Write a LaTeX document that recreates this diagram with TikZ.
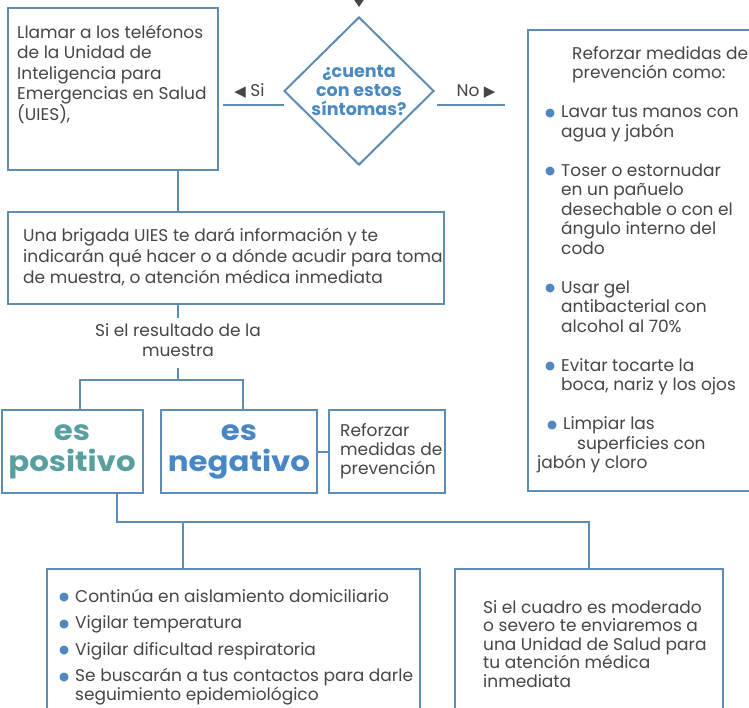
\documentclass[tikz,border=0pt]{standalone}
\usepackage{fontspec}
\setmainfont{Poppins}
\newfontfamily\symfont{DejaVu Sans}
\newfontfamily\bigfont[FakeStretch=1.1]{Poppins}
\usetikzlibrary{shapes.geometric,arrows.meta}

\definecolor{lineblue}{RGB}{93,140,184}
\definecolor{txtgray}{RGB}{70,70,70}
\definecolor{askblue}{RGB}{74,138,192}
\definecolor{posteal}{RGB}{88,160,160}
\definecolor{negblue}{RGB}{72,135,196}
\definecolor{dotblue}{RGB}{80,135,190}

% blue bullet in front of an item
\newcommand{\dotb}{\makebox[16pt][l]{\raisebox{1.5pt}{\color{dotblue}\symfont\fontsize{11.5}{11.5}\selectfont ●}}}

\tikzset{
    box/.style={draw=lineblue, line width=2pt, fill=white, inner sep=0pt},
    link/.style={draw=lineblue, line width=2pt},
    txt/.style={text=txtgray, align=left, inner sep=0pt, anchor=north west, execute at begin node=\strut,
                font=\fontsize{17}{20.5}\selectfont},
    big/.style={align=center, font=\bigfont\bfseries\fontsize{28}{31}\selectfont},
    branchlbl/.style={text=txtgray, anchor=base, yshift=8pt, font=\fontsize{17}{18}\selectfont},
}

\begin{document}
\begin{tikzpicture}[x=1pt, y=-1pt]
    % Canvas with the size of the reference
    \fill[white] (0,0) rectangle (749,708);
    \useasboundingbox (0,0) rectangle (749,708);

    % Question
    \node[shape=diamond, draw=lineblue, line width=2pt, fill=white, minimum width=150, minimum height=148, inner sep=0pt,
          align=center, text=askblue, font=\bfseries\fontsize{17.5}{19}\selectfont] (ask) at (359,91) {¿cuenta\\con estos\\síntomas?};
    \coordinate (top) at (359,-20);
    \draw[-{Triangle[width=9pt,length=7pt]}, txtgray, line width=1.5pt, shorten >=9pt] (top) -- (ask.north);

    % Si and No
    \coordinate (siA) at (223,105);
    \coordinate (siB) at (284,105);
    \draw[link] (siA) -- node[branchlbl, xshift=-4pt] (si) {{\symfont\fontsize{15}{15}\selectfont ◀} Si} (siB);
    \coordinate (noA) at (437,105);
    \coordinate (noB) at (505,105);
    \draw[link] (noA) -- node[branchlbl, xshift=5pt] (no) {No {\symfont\fontsize{15}{15}\selectfont ▶}} (noB);

    % Call the UIES
    \node[box, minimum width=210, minimum height=162] (call) at (113,89) {};
    \node[txt] (calltxt) at (17,24.6) {Llamar a los teléfonos\\de la Unidad de\\Inteligencia para\\Emergencias en Salud\\(UIES),};

    % Prevention list
    \node[box, minimum width=232, minimum height=461] (prev) at (644,260.5) {};
    \node[txt, font=\fontsize{17}{19.5}\selectfont] (prevtxt) at (537,46.3) {%
        \hspace*{35pt}Reforzar medidas de\\
        \hspace*{35pt}prevención como:\\[19.5pt]
        \hspace*{8pt}\dotb Lavar tus manos con\\
        \hspace*{24pt}agua y jabón\\[19.5pt]
        \hspace*{8pt}\dotb Toser o estornudar\\
        \hspace*{24pt}en un pañuelo\\
        \hspace*{24pt}desechable o con el\\
        \hspace*{24pt}ángulo interno del\\
        \hspace*{24pt}codo\\[19.5pt]
        \hspace*{8pt}\dotb Usar gel\\
        \hspace*{24pt}antibacterial con\\
        \hspace*{24pt}alcohol al 70\%\\[19.5pt]
        \hspace*{8pt}\dotb Evitar tocarte la\\
        \hspace*{24pt}boca, nariz y los ojos\\[19.5pt]
        \hspace*{10pt}\dotb Limpiar las\\
        \hspace*{40pt}superficies con\\
        jabón y cloro};

    % Brigade
    \node[box, minimum width=436, minimum height=92] (brig) at (226,258) {};
    \node[txt, font=\fontsize{17}{21}\selectfont] (brigtxt) at (23,228.3) {Una brigada UIES te dará información y te\\indicarán qué hacer o a dónde acudir para toma\\de muestra, o atención médica inmediata};
    \coordinate (spine) at (178,0);
    \draw[link] (call.south -| spine) -- (brig.north -| spine);

    % Result of the test
    \node[txt, anchor=north, align=center, inner sep=5pt] (res) at (178,318) {Si el resultado de la\\muestra};
    \draw[link] (brig.south -| spine) -- (res.north);

    \node[box, minimum width=141, minimum height=83, big, text=posteal] (pos) at (72,451.5) {es\\positivo};
    \node[box, minimum width=156, minimum height=83, big, text=negblue] (neg) at (239,451.5) {es\\negativo};
    \node[box, minimum width=116, minimum height=83] (ref) at (387,451.5) {};
    \node[txt, font=\fontsize{17}{19}\selectfont] (reftxt) at (340,423.7) {Reforzar\\medidas de\\prevención};
    \draw[link] (neg.east) -- (ref.west);

    \coordinate (fork) at (178,380);
    \draw[link] (res.south) -- (fork);
    \draw[link] ([xshift=8pt]pos.north) |- (fork) -| ([xshift=4pt]neg.north);

    % Positive case
    \node[box, minimum width=373, minimum height=160] (cont) at (233.5,649) {};
    \node[box, minimum width=268, minimum height=160] (sev) at (589,649) {};
    \coordinate (join) at (183,522);
    \draw[link] ([xshift=45pt]pos.south) |- (join) -| (sev.north);
    \draw[link] (join) -- (cont.north -| join);

    \node[txt, font=\fontsize{17}{19}\selectfont] (conttxt) at (59,588.7) {%
        \dotb Continúa en aislamiento domiciliario\\[7.5pt]
        \dotb Vigilar temperatura\\[7.5pt]
        \dotb Vigilar dificultad respiratoria\\[7.5pt]
        \dotb Se buscarán a tus contactos para darle\\
        \hspace*{16pt}seguimiento epidemiológico};
    \node[txt, font=\fontsize{17}{18.5}\selectfont] (sevtxt) at (483,600) {Si el cuadro es moderado\\o severo te enviaremos a\\una Unidad de Salud para\\tu atención médica\\inmediata};
\end{tikzpicture}
\end{document}
